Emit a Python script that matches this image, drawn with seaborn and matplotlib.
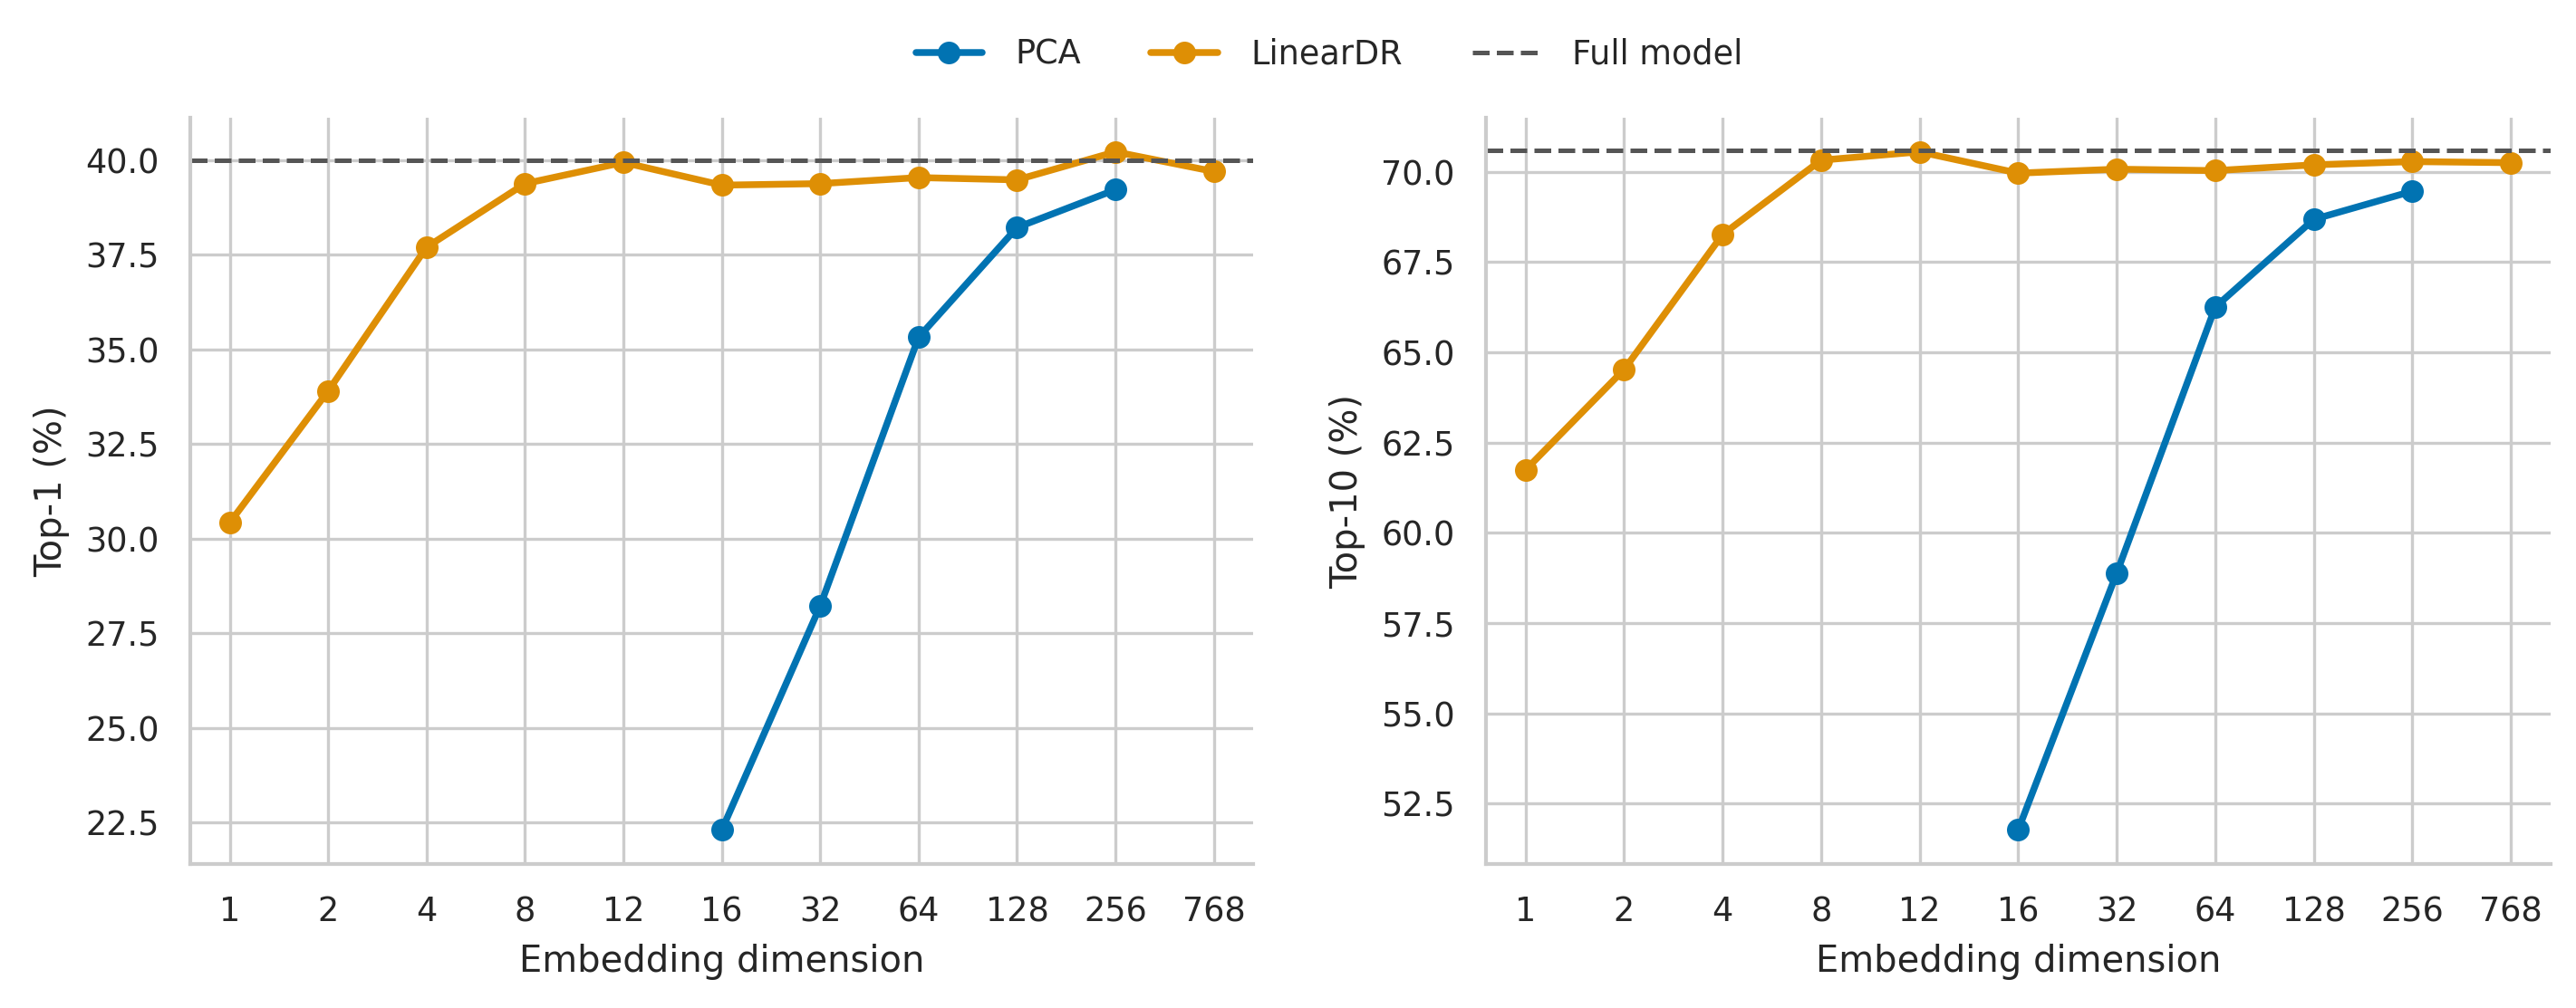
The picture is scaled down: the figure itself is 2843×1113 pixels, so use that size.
import numpy as np
import pandas as pd
import matplotlib
matplotlib.use("Agg")
import matplotlib.pyplot as plt
import seaborn as sns

# embedding dimensions (categorical x axis)
dims = ["1", "2", "4", "8", "12", "16", "32", "64", "128", "256", "768"]

# Top-1 (%)
lineardr_top1 = [30.42, 33.90, 37.70, 39.38, 39.94, 39.34, 39.38, 39.54, 39.48, 40.22, 39.70]
pca_dims = ["16", "32", "64", "128", "256"]
pca_top1 = [22.30, 28.22, 35.32, 38.22, 39.22]
full_top1 = 40.0

# Top-10 (%)
lineardr_top10 = [61.74, 64.52, 68.26, 70.32, 70.55, 69.96, 70.07, 70.03, 70.19, 70.28, 70.25]
pca_top10 = [51.77, 58.88, 66.25, 68.68, 69.46]
full_top10 = 70.60

sns.set_theme(context="paper", style="whitegrid")
pal = sns.color_palette("colorblind")

pos = {d: i for i, d in enumerate(dims)}

fig = plt.figure(figsize=(2843 / 300, 1113 / 300), dpi=300)
ax1 = fig.add_axes([0.0739, 0.143, 0.4126, 0.740])
ax2 = fig.add_axes([0.5769, 0.143, 0.4131, 0.740])

panels = [
    (ax1, pca_top1, lineardr_top1, full_top1, "Top-1 (%)"),
    (ax2, pca_top10, lineardr_top10, full_top10, "Top-10 (%)"),
]

for ax, pca_vals, ldr_vals, full_val, ylab in panels:
    df_pca = pd.DataFrame({"x": [pos[d] for d in pca_dims], "y": pca_vals})
    df_ldr = pd.DataFrame({"x": [pos[d] for d in dims], "y": ldr_vals})
    sns.lineplot(data=df_pca, x="x", y="y", ax=ax, color=pal[0], marker="o",
                 markersize=6, markeredgewidth=0, linewidth=1.8, label="PCA")
    sns.lineplot(data=df_ldr, x="x", y="y", ax=ax, color=pal[1], marker="o",
                 markersize=6, markeredgewidth=0, linewidth=1.8, label="LinearDR")
    ax.axhline(full_val, color="#555555", linestyle="--", linewidth=1.2, label="Full model")
    ax.set_xticks(range(len(dims)))
    ax.set_xticklabels(dims)
    ax.set_xlim(-0.4, len(dims) - 0.6)
    ax.set_xlabel("Embedding dimension")
    ax.set_ylabel(ylab)
    ax.get_legend().remove()
    sns.despine(ax=ax)

handles, labels = ax1.get_legend_handles_labels()
fig.legend(handles, labels, loc="center", bbox_to_anchor=(0.516, 0.946),
           ncol=3, frameon=False, handletextpad=1.0, columnspacing=2.1)

fig.savefig("out.png", dpi=300)
